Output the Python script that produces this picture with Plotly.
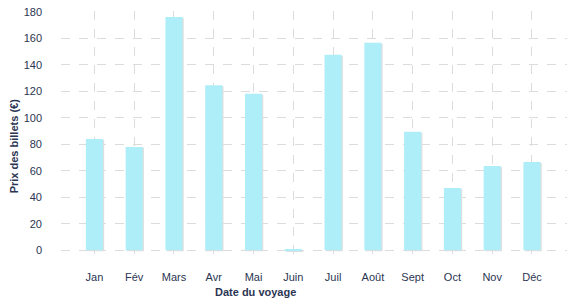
import plotly.graph_objects as go

months = ["Jan", "Fév", "Mars", "Avr", "Mai", "Juin", "Juil", "Août", "Sept", "Oct", "Nov", "Déc"]
prices = [84, 78, 176, 124.5, 118, 1, 147.5, 156.5, 89.5, 47, 63.5, 66.5]
y_ticks = [0, 20, 40, 60, 80, 100, 120, 140, 160, 180]

bar_w = 0.43
text_col = "#2b3553"
grid_col = "#dcdcdc"

fig = go.Figure()
# shadow
fig.add_trace(go.Bar(
    x=months, y=prices, base=-0.75, width=bar_w, offset=-bar_w / 2 + 0.03,
    marker=dict(color="#dedede", line=dict(width=0)), hoverinfo="skip", showlegend=False,
))
fig.add_trace(go.Bar(
    x=months, y=prices, width=bar_w, offset=-bar_w / 2,
    marker=dict(color="#aeeef8", line=dict(width=0)), showlegend=False,
))

fig.update_layout(
    width=577, height=300,
    margin=dict(l=61, r=10, t=6, b=37),
    paper_bgcolor="white", plot_bgcolor="white",
    barmode="overlay",
    font=dict(family="Liberation Sans, Arial, sans-serif", size=11, color=text_col),
    xaxis=dict(
        range=[-0.84, 11.88], showgrid=True, gridcolor=grid_col, griddash="dash", gridwidth=1,
        zeroline=False, showline=False, ticks="", ticklabelstandoff=6,
    ),
    yaxis=dict(
        range=[-9.6, 180.5], tickvals=y_ticks,
        showgrid=True, gridcolor=grid_col, griddash="dash", gridwidth=1,
        zeroline=False, showline=False, ticks="", ticklabelstandoff=18,
    ),
    annotations=[
        dict(text="<b>Date du voyage</b>", xref="paper", yref="paper", x=(255 - 61) / 506, y=(300 - 37 - 293) / 257,
             showarrow=False, xanchor="center", yanchor="middle", font=dict(size=11, color=text_col)),
        dict(text="<b>Prix des billets (€)</b>", xref="paper", yref="paper", x=(14 - 61) / 506, y=(263 - 144) / 257,
             showarrow=False, textangle=-90, xanchor="center", yanchor="middle", font=dict(size=11, color=text_col)),
    ],
)

fig.write_html("out.html")
